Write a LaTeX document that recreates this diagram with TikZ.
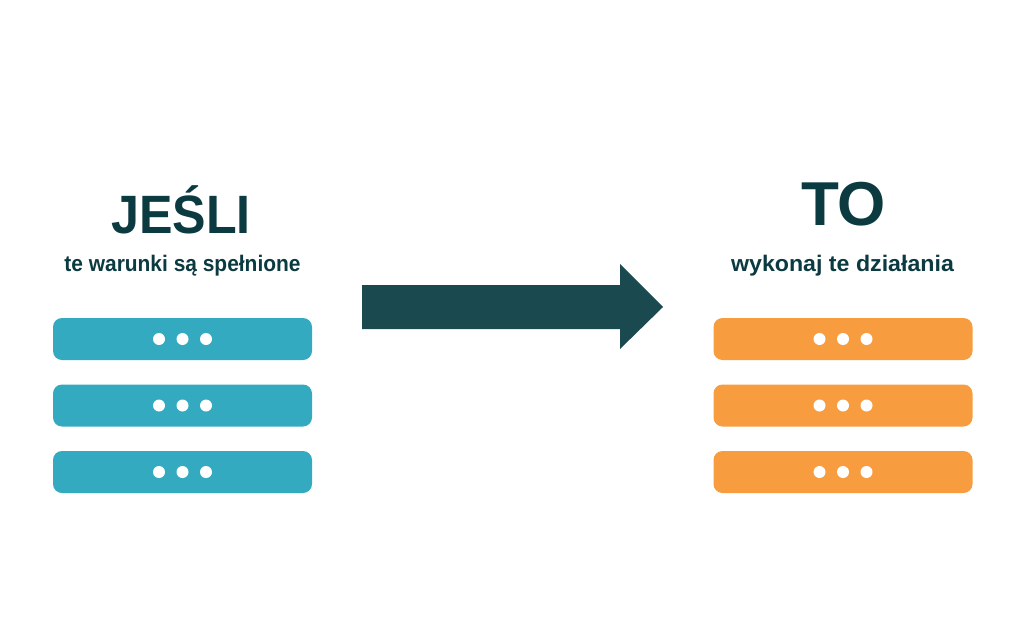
\documentclass[tikz,border=0pt]{standalone}
\usepackage{fontspec}
\setmainfont{Liberation Sans}
\definecolor{txtc}{HTML}{0B3A40}
\definecolor{arrowc}{HTML}{1A4A4F}
\definecolor{tealc}{HTML}{33AABF}
\definecolor{orangec}{HTML}{F79D3F}
\tikzset{
  titletxt/.style={anchor=base, text=txtc, inner sep=0pt, font=\bfseries\fontsize{54}{60}\selectfont},
  subtxt/.style={anchor=base, text=txtc, inner sep=0pt, font=\bfseries\fontsize{22.5}{26}\selectfont},
  barbox/.style={rounded corners=9pt, minimum width=259pt, minimum height=42pt, inner sep=0pt, draw=none},
  dotc/.style={fill=white}
}
\begin{document}
\begin{tikzpicture}[x=1pt,y=-1pt]
\useasboundingbox (0,0) rectangle (1024,640);
\fill[white] (0,0) rectangle (1024,640);

% left column
\node[titletxt] (ifT) at (181,233) {\scalebox{0.93}[1]{JEŚLI}};
\node[subtxt] (ifS) at (182.5,271.7) {\scalebox{0.93}[1]{te warunki są spełnione}};
\foreach \i/\y in {1/339,2/405.5,3/472}{
  \node[barbox, fill=tealc] (L\i) at (182.5,\y) {};
  \foreach \dx in {-23.5,0,23.5}{
    \fill[dotc] ([xshift=\dx pt]L\i.center) circle (6);
  }
}

% right column
\node[titletxt, font=\bfseries\fontsize{62}{68}\selectfont] (thenT) at (843.5,225) {TO};
\node[subtxt] (thenS) at (842.5,271) {\scalebox{1.03}[1]{wykonaj te działania}};
\foreach \i/\y in {1/339,2/405.5,3/472}{
  \node[barbox, fill=orangec] (R\i) at (843,\y) {};
  \foreach \dx in {-23.5,0,23.5}{
    \fill[dotc] ([xshift=\dx pt]R\i.center) circle (6);
  }
}

% big arrow
\fill[arrowc] (362,285) -- (620,285) -- (620,264) -- (663,307) -- (620,349) -- (620,329) -- (362,329) -- cycle;
\end{tikzpicture}
\end{document}
